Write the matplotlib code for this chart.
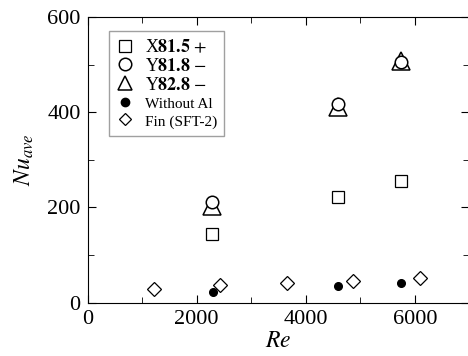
import matplotlib
matplotlib.use("Agg")
import matplotlib.pyplot as plt
from matplotlib.ticker import MultipleLocator

plt.rcParams['font.family'] = ['Liberation Serif', 'DejaVu Serif']
plt.rcParams['mathtext.fontset'] = 'stix'

re_x = [2290, 4590, 5740]
nu_x815 = [145, 222, 256]
nu_y818 = [212, 418, 505]
nu_y828 = [204, 411, 507]
re_noal = [2300, 4600, 5750]
nu_noal = [23, 35, 41]
re_fin = [1220, 2430, 3650, 4870, 6090]
nu_fin = [28, 36, 41, 46, 51]

fig = plt.figure(figsize=(4.68, 3.56), dpi=100)
ax = fig.add_axes([0.187, 0.150, 0.816, 0.802])

h_sq, = ax.plot(re_x, nu_x815, ls='none', marker='s', ms=8, mfc='white', mec='black', mew=0.9,
                label='X$\\mathbf{81.5}$ $+$')
h_tr, = ax.plot(re_x, nu_y828, ls='none', marker='^', ms=12.5, mfc='white', mec='black', mew=1.1,
                label='Y$\\mathbf{82.8}$ $-$')
h_ci, = ax.plot(re_x, nu_y818, ls='none', marker='o', ms=9, mfc='white', mec='black', mew=1.1,
                label='Y$\\mathbf{81.8}$ $-$')
h_na, = ax.plot(re_noal, nu_noal, ls='none', marker='o', ms=5.5, mfc='black', mec='black',
                label='Without Al')
h_fn, = ax.plot(re_fin, nu_fin, ls='none', marker='D', ms=7, mfc='white', mec='black', mew=0.9,
                label='Fin (SFT-2)')

ax.set_xlim(0, 7000)
ax.set_ylim(0, 600)
ax.xaxis.set_major_locator(MultipleLocator(2000))
ax.xaxis.set_minor_locator(MultipleLocator(1000))
ax.yaxis.set_major_locator(MultipleLocator(200))
ax.yaxis.set_minor_locator(MultipleLocator(100))
ax.tick_params(which='both', direction='in', top=True, right=True, labelsize=16, pad=5)
ax.tick_params(which='major', length=6)
ax.tick_params(which='minor', length=4)
ax.set_xlabel('$Re$', fontsize=17, labelpad=2)
ax.set_ylabel('$Nu_{ave}$', fontsize=17, labelpad=8)

leg = ax.legend(handles=[h_sq, h_ci, h_tr, h_na, h_fn], loc='upper left',
                bbox_to_anchor=(0.056, 0.95), frameon=True, fancybox=False,
                edgecolor='#888888', handletextpad=0.6, borderpad=0.4, labelspacing=0.1,
                handlelength=1.0, fontsize=13, borderaxespad=0)
leg.get_frame().set_linewidth(1.0)
for i, t in enumerate(leg.get_texts()):
    if i >= 3:
        t.set_fontsize(11)
leg.legend_handles[0].set_markersize(8)
leg.legend_handles[1].set_markersize(9)
leg.legend_handles[2].set_markersize(10)
leg.legend_handles[3].set_markersize(6)
leg.legend_handles[4].set_markersize(6)

fig.savefig('out.png', dpi=100)
